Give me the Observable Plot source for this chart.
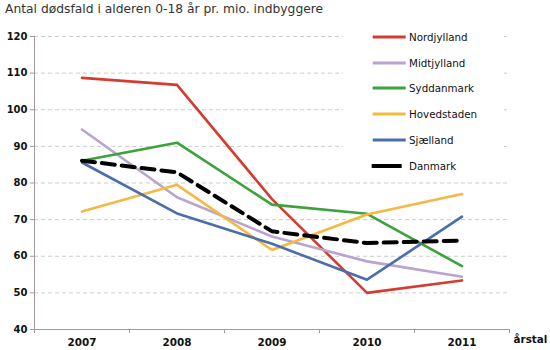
<!DOCTYPE html>
<html>
<head>
<meta charset="utf-8">
<script src="https://cdn.jsdelivr.net/npm/d3@7"></script>
<script src="https://cdn.jsdelivr.net/npm/@observablehq/plot@0.6"></script>
<style>
  body { margin: 0; background: #fff; }
  #wrap { position: relative; width: 550px; height: 350px; font-family: "DejaVu Sans", sans-serif; }
  #title { position: absolute; left: 5px; top: 2px; font-size: 12.3px; color: #333; white-space: nowrap; }
  #legend { position: absolute; left: 343px; top: 24px; width: 161px; height: 154px; background: #fff; }
  .item { position: absolute; left: 0; height: 14px; font-size: 10.3px; color: #111; }
  .item svg { position: absolute; top: 0; }
  .item span { position: absolute; left: 66px; top: 0; line-height: 14px; white-space: nowrap; }
</style>
</head>
<body>
<div id="wrap">
  <div id="title"></div>
  <div id="legend"></div>
</div>
<script>
const title = "Antal dødsfald i alderen 0-18 år pr. mio. indbyggere";
const years = [2007, 2008, 2009, 2010, 2011];
const yTicks = [40, 50, 60, 70, 80, 90, 100, 110, 120];
const seriesNames = ["Nordjylland", "Midtjylland", "Syddanmark", "Hovedstaden", "Sjælland", "Danmark"];
const seriesColors = ["#d63b2f", "#b9a4cf", "#3ca23c", "#f4b942", "#4a6ea8", "#000000"];
const nordjylland = [108.7, 106.8, 75.6, 50.0, 53.4];
const midtjylland = [94.6, 76.1, 65.4, 58.6, 54.4];
const syddanmark = [86.1, 91.0, 74.1, 71.6, 57.3];
const hovedstaden = [72.2, 79.5, 61.7, 71.4, 77.0];
const sjaelland = [85.6, 71.7, 63.4, 53.6, 70.8];
const danmark = [86.1, 82.9, 66.8, 63.6, 64.3];
const xTitle = "årstal";

const seriesValues = [nordjylland, midtjylland, syddanmark, hovedstaden, sjaelland, danmark];
const rows = [];
seriesNames.forEach((name, i) => years.forEach((yr, j) => rows.push({series: name, year: yr, value: seriesValues[i][j]})));
const regional = rows.filter(d => d.series !== "Danmark");
const national = rows.filter(d => d.series === "Danmark");
const bounds = years.map(y => y - 0.5).concat([years[years.length - 1] + 0.5]);

document.getElementById("title").textContent = title;

const chart = Plot.plot({
  width: 550,
  height: 350,
  marginTop: 36,
  marginBottom: 21,
  marginLeft: 34,
  marginRight: 41,
  style: {fontFamily: "DejaVu Sans, sans-serif", background: "transparent", color: "#111"},
  x: {type: "linear", domain: [bounds[0], bounds[bounds.length - 1]]},
  y: {domain: [40, 120]},
  color: {domain: seriesNames, range: seriesColors},
  marks: [
    Plot.ruleY(yTicks.filter(v => v > 40), {stroke: "#cccccc", strokeDasharray: "4,3", strokeWidth: 1}),
    Plot.axisY({ticks: yTicks, tickSize: 4, tickPadding: 3, fontSize: 10, fontWeight: "bold", stroke: "#a29a9a", label: null}),
    Plot.axisX({ticks: years, tickSize: 0, tickPadding: 9, fontSize: 10.4, fontWeight: "bold", tickFormat: d => String(d), label: null}),
    Plot.axisX({ticks: bounds, tickSize: 4, tickFormat: () => "", stroke: "#a29a9a", label: null}),
    Plot.ruleX([bounds[0]], {stroke: "#a29a9a", strokeWidth: 1}),
    Plot.ruleY([40], {stroke: "#a29a9a", strokeWidth: 1}),
    Plot.line(regional, {x: "year", y: "value", z: "series", stroke: "series", strokeWidth: 2.6}),
    Plot.line(national, {x: "year", y: "value", stroke: "series", strokeWidth: 4, strokeDasharray: "13,7"}),
    Plot.text([xTitle], {frameAnchor: "bottom-right", textAnchor: "start", dx: 4, dy: 13, fontSize: 10.4, fontWeight: "bold", fill: "#111"})
  ]
});
document.getElementById("wrap").insertBefore(chart, document.getElementById("legend"));
chart.style.position = "absolute";
chart.style.left = "0";
chart.style.top = "0";

const legend = document.getElementById("legend");
const rowY = [12.7, 38.7, 64.3, 90, 116, 141.7];
seriesNames.forEach((name, i) => {
  const item = document.createElement("div");
  item.className = "item";
  item.style.top = (rowY[i] - 7) + "px";
  item.style.width = "160px";
  const dashed = name === "Danmark";
  const x0 = dashed ? 28.7 : 29.7;
  const w = dashed ? 30 : 33;
  const sw = dashed ? 4 : 2.8;
  item.innerHTML = `<svg width="70" height="14" style="left:0"><line x1="${x0}" x2="${x0 + w}" y1="7" y2="7" stroke="${seriesColors[i]}" stroke-width="${sw}"/></svg><span>${name}</span>`;
  legend.appendChild(item);
});
</script>
</body>
</html>
